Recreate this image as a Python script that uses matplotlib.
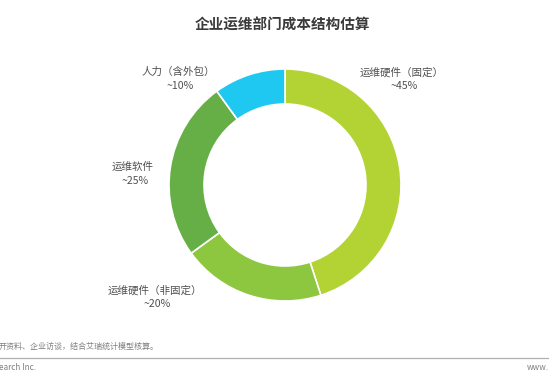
import matplotlib.pyplot as plt

plt.rcParams['font.family'] = ['Noto Sans CJK SC', 'DejaVu Sans']

# data
categories = ["运维硬件（固定）", "运维硬件（非固定）", "运维软件", "人力（含外包）"]
shares = [45, 20, 25, 10]
share_labels = ["~45%", "~20%", "~25%", "~10%"]
colors = ["#B3D334", "#8DC63F", "#66AF46", "#1FC8F0"]

W, H = 549, 380
fig = plt.figure(figsize=(W / 100, H / 100), dpi=100)
ax = fig.add_axes([0, 0, 1, 1])
ax.set_xlim(0, W)
ax.set_ylim(0, H)
ax.set_aspect('equal')
ax.axis('off')

# donut
ax.pie(shares, colors=colors, startangle=90, counterclock=False,
       center=(285, H - 185), radius=116,
       wedgeprops=dict(width=35, edgecolor='white', linewidth=1.2))
ax.set_xlim(0, W)
ax.set_ylim(0, H)

# labels (pixel positions, top-down)
label_pos = [(402, 72), (155, 290), (133, 167), (178, 72)]
for name, pct, (x, y) in zip(categories, share_labels, label_pos):
    ax.text(x, H - y, name, ha='center', va='center', fontsize=7.6, color='#505050')
    ax.text(x + 2, H - y - 14, pct, ha='center', va='center', fontsize=7.6, color='#505050')

# title
ax.text(282, H - 25, "企业运维部门成本结构估算", ha='center', va='center',
        fontsize=10.5, fontweight='bold', color='#3a3a3a')

# footer
ax.text(-1, H - 346, "开资料、企业访谈，结合艾瑞统计模型核算。", ha='left', va='center',
        fontsize=5.8, color='#808080')
ax.plot([0, W], [H - 358, H - 358], color='#b0b0b0', lw=0.9)
ax.text(-1, H - 368, "earch Inc.", ha='left', va='center', fontsize=5.9, color='#808080')
ax.text(527, H - 368, "www.", ha='left', va='center', fontsize=5.9, color='#808080')

fig.savefig("out.png", dpi=100)
